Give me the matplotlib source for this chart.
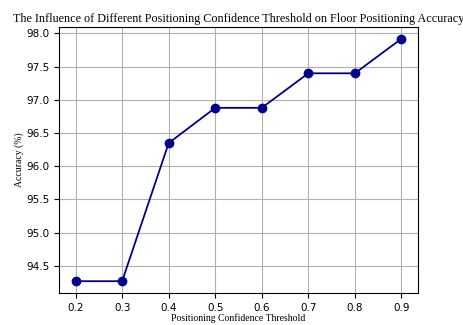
import matplotlib
matplotlib.use("Agg")
import matplotlib.pyplot as plt

# data
thresholds = [0.2, 0.3, 0.4, 0.5, 0.6, 0.7, 0.8, 0.9]
accuracy = [94.27, 94.27, 96.35, 96.88, 96.88, 97.40, 97.40, 97.92]
y_ticks = [94.5, 95.0, 95.5, 96.0, 96.5, 97.0, 97.5, 98.0]

fig = plt.figure(figsize=(4.63, 3.25), dpi=100)
ax = fig.add_axes([0.1281, 0.0975, 0.774, 0.8205])

ax.plot(thresholds, accuracy, marker='o', color='darkblue', markersize=6, linewidth=1.3)

ax.set_xticks(thresholds)
ax.set_yticks(y_ticks)
ax.tick_params(labelsize=7.5)
ax.grid(True)

ax.set_title('The Influence of Different Positioning Confidence Threshold on Floor Positioning Accuracy',
             family='Liberation Serif', fontsize=8.75, pad=3)
ax.set_xlabel('Positioning Confidence Threshold', family='Liberation Serif', fontsize=7, labelpad=0.5)
ax.set_ylabel('Accuracy (%)', family='Liberation Serif', fontsize=7, labelpad=2)

fig.savefig('out.png', dpi=100)
